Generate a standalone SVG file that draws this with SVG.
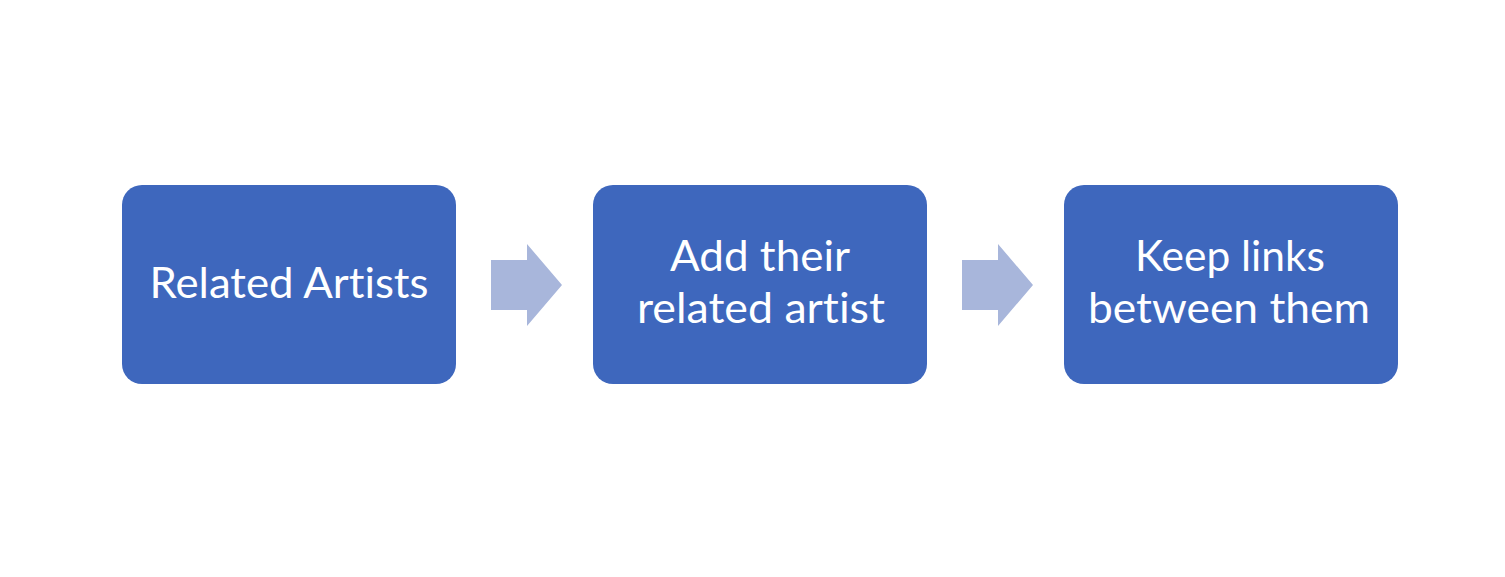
<svg xmlns="http://www.w3.org/2000/svg" width="1505" height="577" viewBox="0 0 1505 577">
<style>
.box{fill:#3E67BD;}
.arr{fill:#A8B6DB;}
.t{font-family:Lato,"Open Sans","Liberation Sans",sans-serif;font-size:42px;fill:#FFFFFF;text-anchor:middle;font-variant-ligatures:none;font-feature-settings:"liga" 0,"clig" 0;}
</style>
<rect x="0" y="0" width="1505" height="577" fill="#FFFFFF"/>
<g id="connectors">
<polygon class="arr" points="491,260 527,260 527,244 562,285 527,326 527,310 491,310"/>
<polygon class="arr" points="962,260 998,260 998,244 1033,285 998,326 998,310 962,310"/>
</g>
<g id="node1">
<rect class="box" x="122" y="185" width="334" height="199" rx="20"/>
<text class="t" x="289" y="298" textLength="279" lengthAdjust="spacingAndGlyphs">Related Artists</text>
</g>
<g id="node2">
<rect class="box" x="593" y="185" width="334" height="199" rx="20"/>
<text class="t" x="760" y="271" textLength="180" lengthAdjust="spacingAndGlyphs">Add their</text>
<text class="t" x="761" y="323" textLength="248" lengthAdjust="spacingAndGlyphs">related artist</text>
</g>
<g id="node3">
<rect class="box" x="1064" y="185" width="334" height="199" rx="20"/>
<text class="t" x="1230" y="271" textLength="190" lengthAdjust="spacingAndGlyphs">Keep links</text>
<text class="t" x="1229" y="323" textLength="282" lengthAdjust="spacingAndGlyphs">between them</text>
</g>
</svg>
